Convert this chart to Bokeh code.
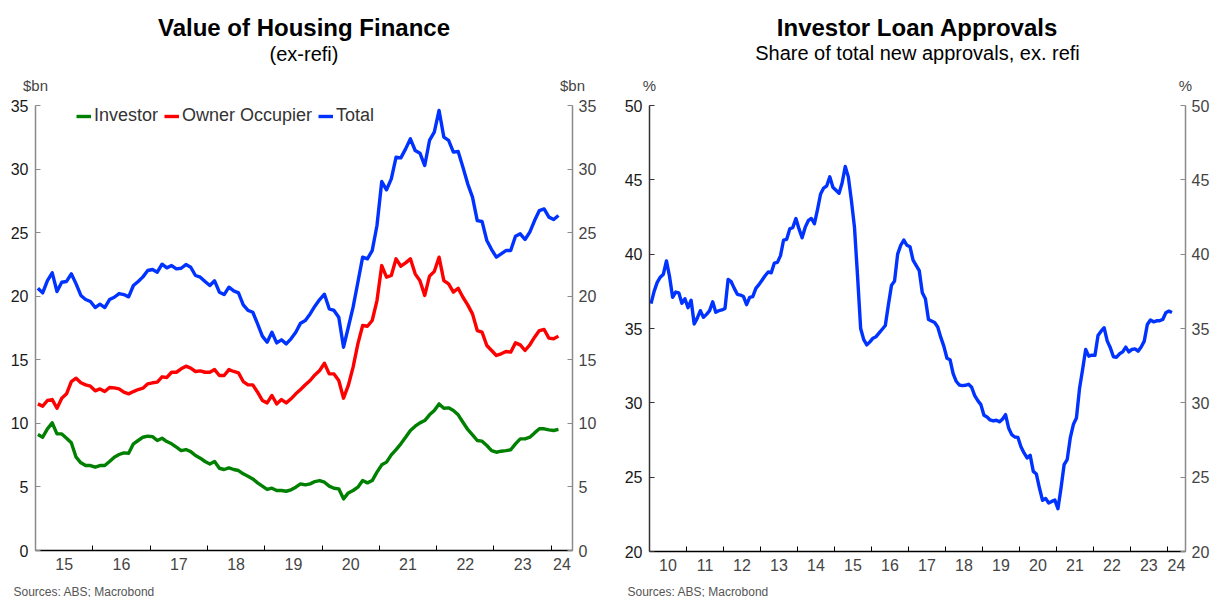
from bokeh.plotting import figure
from bokeh.models import (Range1d, LinearAxis, FixedTicker, CustomJSTickFormatter,
                          Legend, LegendItem)
from bokeh.layouts import row, column
from bokeh.core.properties import value
from bokeh.embed import file_html
from bokeh.resources import INLINE

FONT = "Liberation Sans"

# ---------------- data: Value of Housing Finance ($bn), monthly from Jan 2015 ----------------
hf_start_year, hf_start_month = 2015, 1
investor = [
    9.12, 8.91, 9.57, 10.04, 9.17, 9.17, 8.83, 8.47, 7.34, 6.90,
    6.68, 6.68, 6.55, 6.68, 6.68, 7.00, 7.34, 7.55, 7.68, 7.65,
    8.39, 8.65, 8.91, 8.99, 8.96, 8.65, 8.83, 8.57, 8.39, 8.13,
    7.86, 7.94, 7.78, 7.47, 7.26, 7.00, 6.81, 7.00, 6.47, 6.37,
    6.50, 6.37, 6.29, 6.03, 5.84, 5.63, 5.32, 5.06, 4.80, 4.90,
    4.72, 4.72, 4.66, 4.77, 4.98, 5.24, 5.16, 5.24, 5.42, 5.50,
    5.37, 5.06, 4.90, 4.85, 4.06, 4.53, 4.72, 4.98, 5.50, 5.32,
    5.50, 6.16, 6.74, 6.95, 7.52, 7.94, 8.39, 8.91, 9.44, 9.78,
    10.04, 10.22, 10.67, 11.01, 11.53, 11.19, 11.22, 11.01, 10.67, 10.09,
    9.52, 9.10, 8.65, 8.60, 8.26, 7.86, 7.73, 7.81, 7.86, 7.92,
    8.39, 8.78, 8.78, 8.91, 9.25, 9.57, 9.57, 9.49, 9.44, 9.52,
]
owner_occupier = [
    11.53, 11.35, 11.80, 11.87, 11.19, 11.98, 12.32, 13.29, 13.55, 13.19,
    13.03, 12.92, 12.56, 12.71, 12.50, 12.82, 12.79, 12.71, 12.45, 12.32,
    12.50, 12.66, 12.77, 13.11, 13.19, 13.24, 13.66, 13.61, 14.02, 14.02,
    14.29, 14.50, 14.34, 14.08, 14.13, 14.02, 14.02, 14.23, 13.76, 13.76,
    14.23, 14.08, 13.97, 13.29, 13.03, 13.03, 12.45, 11.80, 11.61, 12.19,
    11.53, 11.87, 11.61, 11.93, 12.32, 12.66, 13.03, 13.37, 13.81, 14.16,
    14.73, 13.89, 13.89, 13.37, 11.98, 12.98, 14.42, 16.25, 17.70, 17.64,
    18.09, 19.66, 22.41, 21.50, 21.63, 22.94, 22.36, 22.62, 22.94, 21.76,
    21.21, 20.06, 21.58, 21.94, 23.07, 21.23, 20.97, 20.32, 20.63, 19.92,
    19.32, 18.61, 17.30, 17.17, 16.12, 15.73, 15.34, 15.47, 15.65, 15.60,
    16.33, 16.17, 15.73, 16.17, 16.78, 17.30, 17.38, 16.70, 16.65, 16.86,
]
total = [
    20.63, 20.26, 21.23, 21.84, 20.37, 21.10, 21.16, 21.76, 20.97, 20.06,
    19.74, 19.58, 19.11, 19.37, 19.11, 19.74, 19.92, 20.21, 20.13, 19.95,
    20.84, 21.16, 21.52, 22.02, 22.10, 21.89, 22.52, 22.23, 22.41, 22.15,
    22.20, 22.49, 22.28, 21.63, 21.50, 21.16, 20.84, 21.21, 20.32, 20.13,
    20.71, 20.42, 20.26, 19.32, 18.88, 18.74, 17.83, 16.86, 16.38, 17.17,
    16.33, 16.57, 16.25, 16.65, 17.17, 17.88, 18.09, 18.61, 19.22, 19.74,
    20.16, 19.01, 18.88, 18.35, 15.99, 17.56, 19.14, 21.10, 23.07, 22.94,
    23.59, 25.56, 29.02, 28.37, 29.23, 30.94, 30.88, 31.59, 32.38, 31.46,
    31.25, 30.28, 32.25, 32.90, 34.61, 32.51, 32.25, 31.33, 31.38, 30.15,
    28.84, 27.79, 25.95, 25.88, 24.38, 23.67, 23.07, 23.33, 23.59, 23.59,
    24.72, 24.91, 24.46, 25.04, 25.95, 26.74, 26.87, 26.22, 26.03, 26.35,
]
hf_year_labels = ["15", "16", "17", "18", "19", "20", "21", "22", "23", "24"]
hf_yticks = [0, 5, 10, 15, 20, 25, 30, 35]

# ---------------- data: Investor share of new approvals (%), monthly from Jan 2010 ----------------
ila_start_year, ila_start_month = 2010, 1
investor_share = [
    36.67, 37.50, 38.10, 38.45, 38.65, 39.55, 38.50, 37.10, 37.45, 37.40,
    36.70, 37.00, 36.40, 36.90, 35.30, 35.70, 36.20, 35.75, 35.95, 36.20,
    36.80, 36.10, 36.20, 36.25, 36.35, 38.30, 38.15, 37.70, 37.30, 37.25,
    37.15, 36.60, 37.10, 37.15, 37.70, 37.95, 38.25, 38.55, 38.80, 38.75,
    39.40, 39.45, 39.90, 40.95, 41.00, 41.70, 41.80, 42.40, 41.70, 41.10,
    41.80, 42.25, 42.40, 42.05, 43.00, 44.05, 44.45, 44.60, 45.20, 44.50,
    44.30, 44.10, 44.80, 45.90, 45.20, 43.60, 41.80, 38.50, 35.00, 34.25,
    33.90, 34.10, 34.35, 34.45, 34.70, 34.95, 35.20, 36.60, 37.90, 38.20,
    40.00, 40.60, 40.95, 40.60, 40.50, 39.60, 39.25, 38.90, 37.40, 37.00,
    35.60, 35.50, 35.40, 35.10, 34.40, 33.80, 33.00, 32.90, 31.97, 31.45,
    31.20, 31.16, 31.18, 31.25, 31.05, 30.49, 30.15, 29.88, 29.16, 29.05,
    28.85, 28.78, 28.83, 28.72, 28.90, 29.21, 28.31, 27.86, 27.70, 27.68,
    27.05, 26.63, 26.29, 26.47, 25.39, 25.21, 24.27, 23.44, 23.57, 23.26,
    23.37, 23.46, 22.88, 24.27, 25.84, 26.18, 27.64, 28.54, 28.98, 30.96,
    32.24, 33.59, 33.14, 33.21, 33.19, 34.53, 34.82, 35.05, 34.15, 33.70,
    33.10, 33.07, 33.30, 33.43, 33.75, 33.43, 33.59, 33.63, 33.48, 33.75,
    34.15, 35.27, 35.57, 35.45, 35.52, 35.52, 35.61, 36.06, 36.17, 36.08,
]
ila_year_labels = ["10", "11", "12", "13", "14", "15", "16", "17", "18", "19",
                   "20", "21", "22", "23", "24"]
ila_yticks = [20, 25, 30, 35, 40, 45, 50]

# ---------------- texts ----------------
titles = ["Value of Housing Finance", "Investor Loan Approvals"]
subtitles = ["(ex-refi)", "Share of total new approvals, ex. refi"]
units = ["$bn", "%"]
source_text = "Sources: ABS; Macrobond"


def month_x(start_year, start_month, n):
    # mid-month position of each monthly observation, in decimal years
    return [start_year + (start_month - 1 + i + 0.5) / 12.0 for i in range(n)]


def year_axis(x0, x1, labels):
    bounds = [float(y) for y in range(int(x0) + 1, int(x1) + 1)]
    edges = [x0] + bounds + [x1]
    mids = [(edges[i] + edges[i + 1]) / 2 for i in range(len(edges) - 1)]
    return LinearAxis(
        ticker=FixedTicker(ticks=mids, minor_ticks=bounds),
        formatter=CustomJSTickFormatter(args=dict(labels=labels),
                                        code="return labels[index];"),
        axis_line_color="black", axis_line_width=1.5,
        major_tick_in=0, major_tick_out=0,
        minor_tick_in=5, minor_tick_out=0,
        minor_tick_line_color="black", minor_tick_line_width=1,
        major_label_text_font=FONT, major_label_text_font_size="16px",
        major_label_text_color="#444444", major_label_standoff=7,
    )


def y_axis(ticks, line_color, label_color, standoff):
    return LinearAxis(
        ticker=FixedTicker(ticks=ticks),
        axis_line_color=line_color, axis_line_width=1.5,
        major_tick_in=5, major_tick_out=0,
        major_tick_line_color=line_color, major_tick_line_width=1,
        minor_tick_in=0, minor_tick_out=0,
        major_label_text_font=FONT, major_label_text_font_size="16px",
        major_label_text_color=label_color, major_label_standoff=standoff,
    )


def blank_fig(width, height, x_range, y_range):
    p = figure(width=width, height=height, x_range=x_range, y_range=y_range,
               output_backend="svg", toolbar_location=None,
               x_axis_location=None, y_axis_location=None,
               min_border=0, min_border_left=0, min_border_right=0,
               min_border_top=0, min_border_bottom=0)
    p.xgrid.visible = False
    p.ygrid.visible = False
    p.outline_line_color = None
    p.border_fill_color = "white"
    p.background_fill_color = "white"
    return p


def chart_fig(x0, x1, y0, y1, fw, fh, bl, br, bt, bb):
    p = figure(frame_width=fw, frame_height=fh,
               x_range=Range1d(x0, x1), y_range=Range1d(y0, y1),
               output_backend="svg", toolbar_location=None,
               x_axis_location=None, y_axis_location=None,
               min_border_left=bl, min_border_right=br,
               min_border_top=bt, min_border_bottom=bb)
    p.xgrid.visible = False
    p.ygrid.visible = False
    p.outline_line_color = None
    p.background_fill_color = "white"
    p.border_fill_color = "white"
    return p


PAGE_W = 1212
HEAD_H = 95
# frame geometry (page pixels)
L1, R1 = 35, 572          # left chart frame
L2, R2 = 649, 1185        # right chart frame

# ---------------- header (titles, subtitles, units) ----------------
head = blank_fig(PAGE_W, HEAD_H, Range1d(0, PAGE_W), Range1d(HEAD_H, 0))
head.text(x=[(L1 + R1) / 2, (L2 + R2) / 2], y=[27, 27], text=titles,
          text_font=value(FONT), text_font_size=value("24px"), text_font_style="bold",
          text_color="#000000", text_align="center", text_baseline="middle")
head.text(x=[(L1 + R1) / 2, (L2 + R2) / 2], y=[53, 52], text=subtitles,
          text_font=value(FONT), text_font_size=value("20px"),
          text_color="#000000", text_align="center", text_baseline="middle")
head.text(x=[L1, R1, L2, R2], y=[85, 85, 85, 85],
          text=[units[0], units[0], units[1], units[1]],
          text_font=value(FONT), text_font_size=value("15px"),
          text_color="#444444", text_align="center", text_baseline="middle")

# ---------------- left chart ----------------
FW1, FH1 = R1 - L1, 445
p1 = chart_fig(2015.0, 2024.37, 0, 35, FW1, FH1, L1, 606 - R1, 105 - HEAD_H, 30)
p1.add_layout(y_axis(hf_yticks, "#8a8a8a", "#1a1a1a", 7), "left")
p1.add_layout(y_axis(hf_yticks, "#8a8a8a", "#444444", 6), "right")
p1.add_layout(year_axis(2015.0, 2024.37, hf_year_labels), "below")

xs1 = month_x(hf_start_year, hf_start_month, len(total))
LW = 3.4
r_inv = p1.line(xs1, investor, line_color="#008000", line_width=LW, line_join="round")
r_oo = p1.line(xs1, owner_occupier, line_color="#ff0000", line_width=LW, line_join="round")
r_tot = p1.line(xs1, total, line_color="#0033ff", line_width=LW, line_join="round")

legend = Legend(items=[LegendItem(label="Investor", renderers=[r_inv]),
                       LegendItem(label="Owner Occupier", renderers=[r_oo]),
                       LegendItem(label="Total", renderers=[r_tot])],
                orientation="horizontal", location=(41, FH1 - 21),
                padding=0, margin=0, spacing=6, label_standoff=3,
                glyph_width=15, glyph_height=20, label_height=20,
                label_text_font=FONT, label_text_font_size="18px",
                label_text_color="#333333", background_fill_alpha=0,
                border_line_color=None)
p1.add_layout(legend)

# ---------------- right chart ----------------
FW2, FH2 = R2 - L2, 446
p2 = chart_fig(2010.0, 2024.49, 20, 50, FW2, FH2, L2 - 606, PAGE_W - R2, 105 - HEAD_H, 29)
p2.add_layout(y_axis(ila_yticks, "#333333", "#1a1a1a", 7), "left")
p2.add_layout(y_axis(ila_yticks, "#8a8a8a", "#444444", 6), "right")
p2.add_layout(year_axis(2010.0, 2024.49, ila_year_labels), "below")

xs2 = month_x(ila_start_year, ila_start_month, len(investor_share))
p2.line(xs2, investor_share, line_color="#0033ff", line_width=LW, line_join="round")

# ---------------- footer (sources) ----------------
FOOT_TOP = 580
foot = blank_fig(PAGE_W, 597 - FOOT_TOP, Range1d(0, PAGE_W), Range1d(597, FOOT_TOP))
foot.text(x=[13, 627], y=[591, 591], text=[source_text, source_text],
          text_font=value(FONT), text_font_size=value("12px"),
          text_color="#555555", text_align="left", text_baseline="middle")

layout = column(head, row(p1, p2), foot)
open("out.html", "w").write(file_html(layout, INLINE))
